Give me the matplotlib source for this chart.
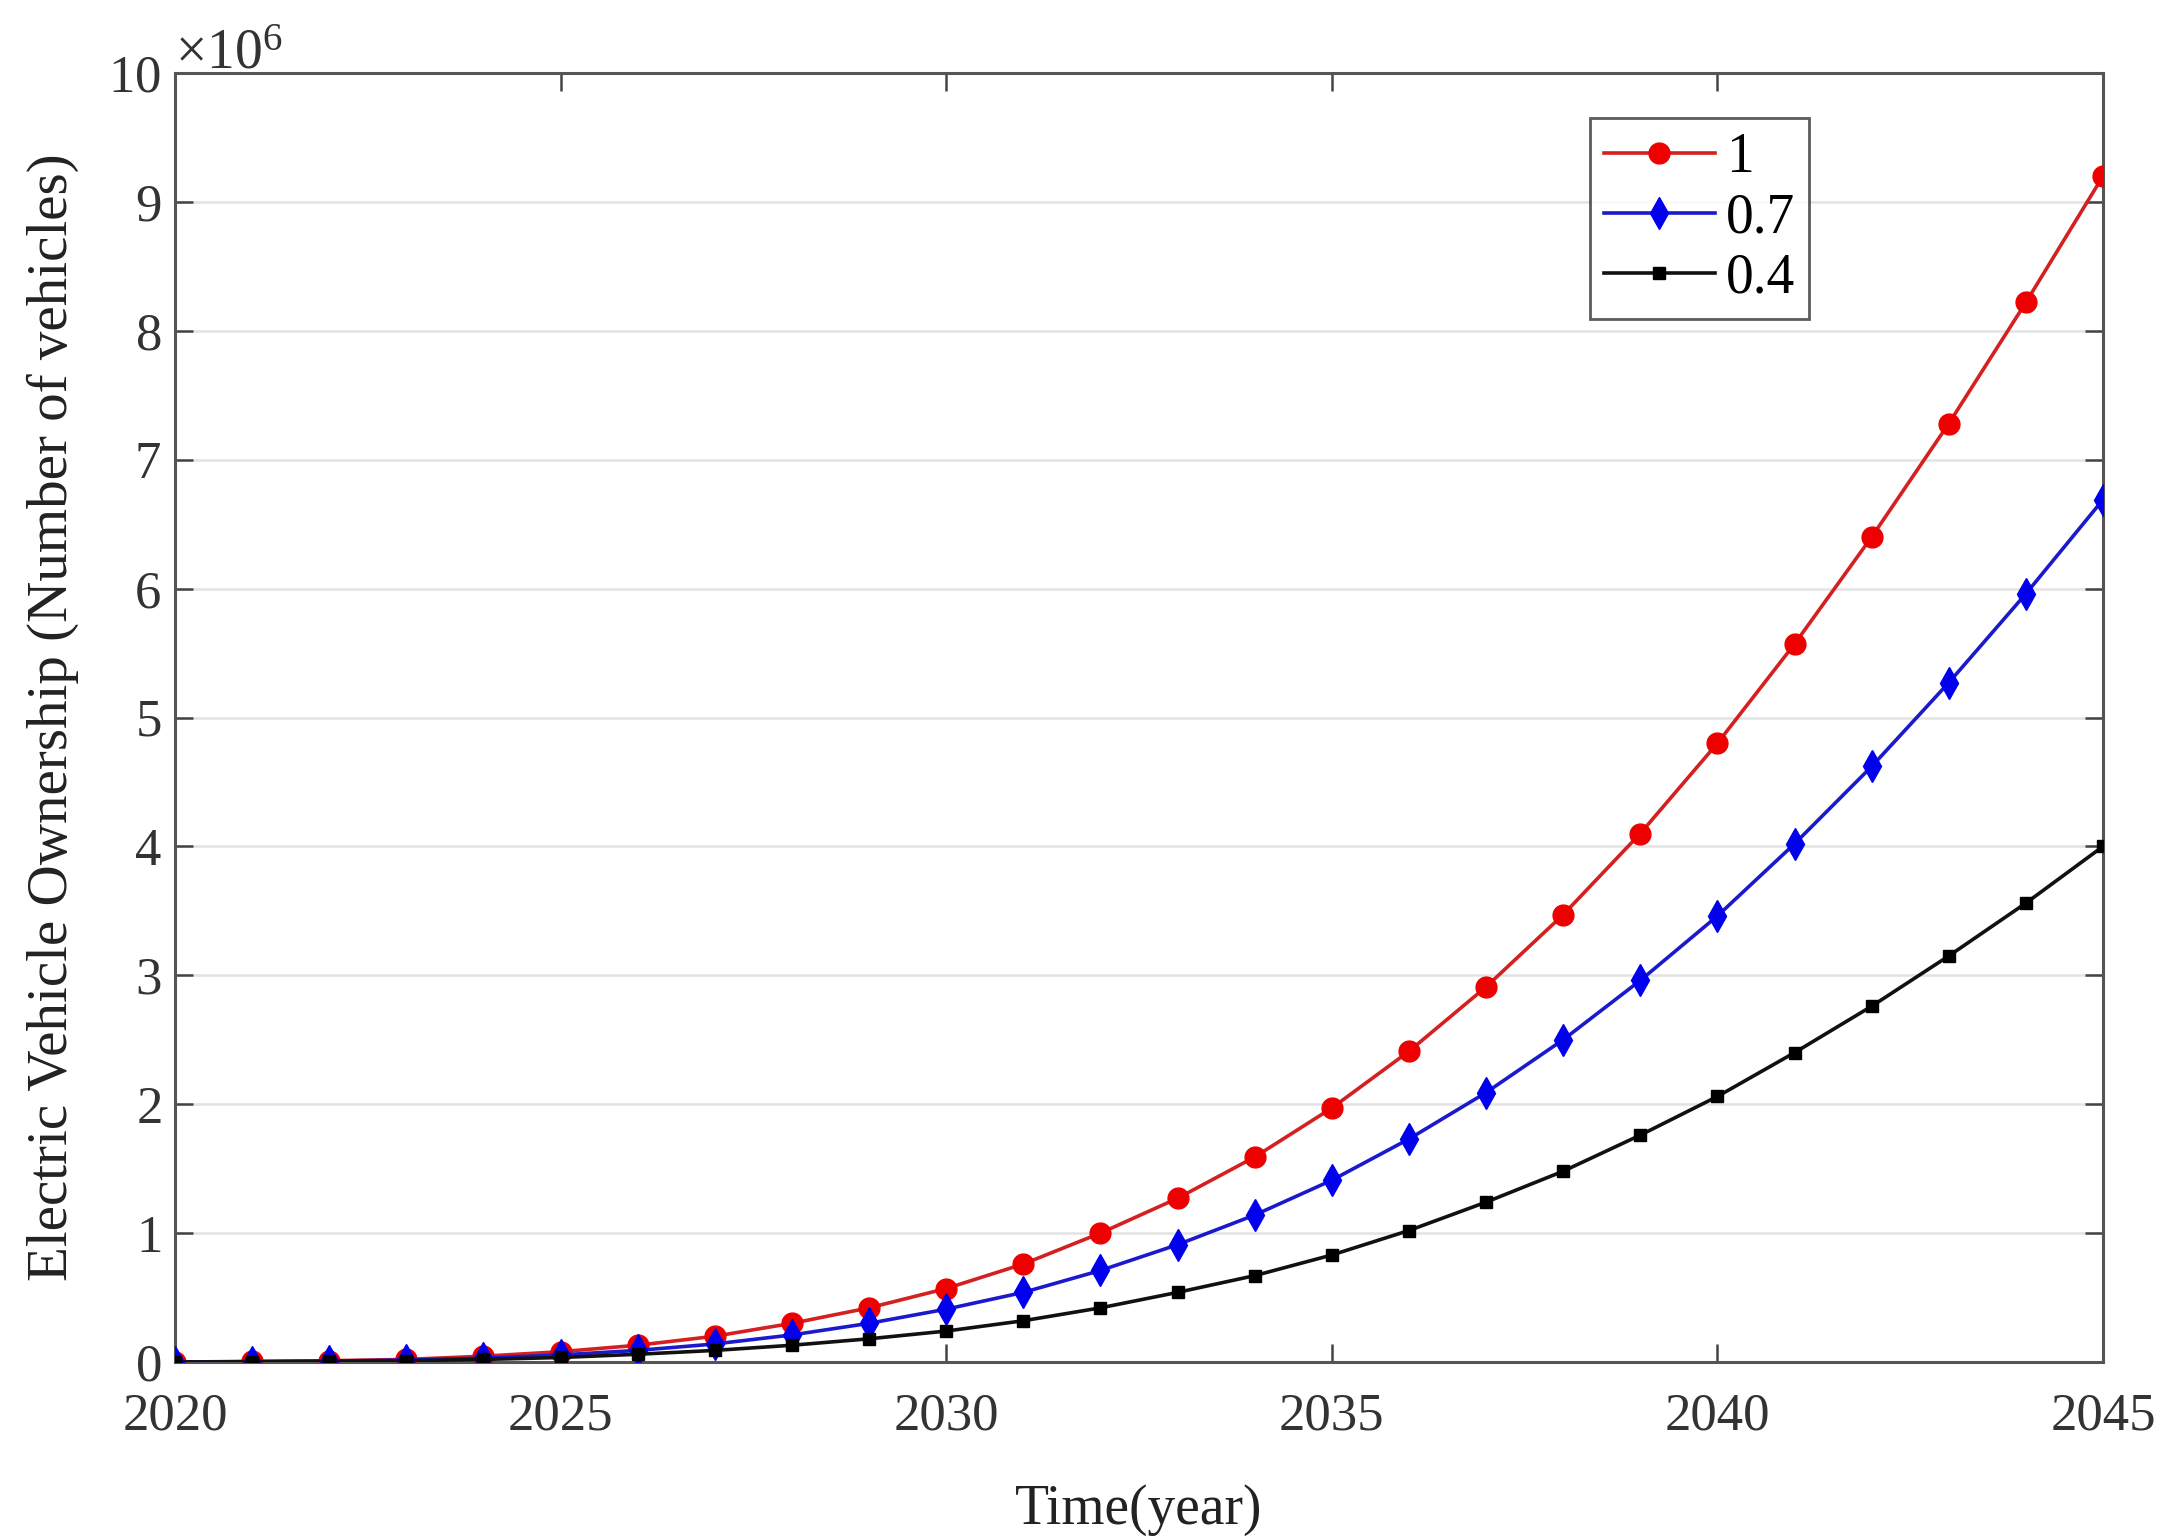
import matplotlib
matplotlib.use('Agg')
import matplotlib.pyplot as plt
from matplotlib.ticker import ScalarFormatter

years = list(range(2020, 2046))
# EV ownership for each scenario, in millions of vehicles
own_1 = [0, 0.004, 0.01, 0.02, 0.045, 0.08, 0.13, 0.20, 0.30, 0.42, 0.57, 0.76, 1.00,
         1.27, 1.59, 1.97, 2.41, 2.91, 3.47, 4.10, 4.80, 5.57, 6.40, 7.28, 8.22, 9.20]
own_07 = [0, 0.003, 0.007, 0.015, 0.03, 0.055, 0.09, 0.14, 0.21, 0.30, 0.41, 0.54, 0.71,
          0.91, 1.14, 1.41, 1.73, 2.09, 2.50, 2.96, 3.46, 4.02, 4.62, 5.27, 5.96, 6.69]
own_04 = [0, 0.002, 0.004, 0.01, 0.02, 0.035, 0.06, 0.09, 0.13, 0.18, 0.24, 0.32, 0.42,
          0.54, 0.67, 0.83, 1.02, 1.24, 1.48, 1.76, 2.06, 2.40, 2.76, 3.15, 3.56, 4.00]
labels = ['1', '0.7', '0.4']
x_ticks = [2020, 2025, 2030, 2035, 2040, 2045]

plt.rcParams.update({
    'font.family': ['Liberation Serif', 'DejaVu Serif'],
    'mathtext.fontset': 'custom',
    'mathtext.rm': 'Liberation Serif',
    'mathtext.it': 'Liberation Serif:italic',
    'font.size': 38,
})

W, H = 2175, 1539
L, R, T, B = 175, 2103, 73, 1362
fig = plt.figure(figsize=(W/100, H/100), dpi=100)
ax = fig.add_axes([L/W, 1 - B/H, (R-L)/W, (B-T)/H])

ax.plot(years, [v*1e6 for v in own_1], color='#d42020', lw=2.6, marker='o', ms=15,
        mfc='#ee0000', mec='#ee0000', label=labels[0], zorder=3)
ax.plot(years, [v*1e6 for v in own_07], color='#1a1acc', lw=2.6, marker='d', ms=16,
        mfc='#0000ee', mec='#0000ee', label=labels[1], zorder=4)
ax.plot(years, [v*1e6 for v in own_04], color='#111111', lw=2.6, marker='s', ms=8,
        mfc='black', mec='black', label=labels[2], zorder=5)

ax.set_xlim(2020, 2045)
ax.set_ylim(0, 10e6)
ax.set_xticks(x_ticks)
ax.set_yticks([i*1e6 for i in range(11)])
fmt = ScalarFormatter(useMathText=True)
fmt.set_powerlimits((6, 6))
ax.yaxis.set_major_formatter(fmt)
ax.yaxis.get_offset_text().set_fontsize(40)
ax.yaxis.get_offset_text().set_color('#333333')

ax.grid(axis='y', color='#e3e3e3', lw=1.8)
ax.set_axisbelow(True)
ax.tick_params(direction='in', length=13, width=1.8, top=True, right=True,
               colors='#444444', labelcolor='#333333', labelsize=38, pad=10)
ax.tick_params(axis='x', pad=22)
for s in ax.spines.values():
    s.set_color('#555555')
    s.set_linewidth(2.2)

ax.set_xlabel('Time(year)', fontsize=40, color='#222222')
ax.set_ylabel('Electric Vehicle Ownership (Number of vehicles)', fontsize=41,
              color='#222222')
ax.xaxis.set_label_coords(0.5, -0.095)
ax.yaxis.set_label_coords(-0.05, 0.5)

leg = ax.legend(loc='upper right', bbox_to_anchor=(0.8475, 0.965), fontsize=40,
                frameon=True, fancybox=False, handlelength=2.0, handletextpad=0.2,
                borderpad=0.25, labelspacing=0.15, borderaxespad=0)
leg.get_frame().set_edgecolor('#333333')
leg.get_frame().set_linewidth(2)

fig.savefig('out.png', dpi=100)
